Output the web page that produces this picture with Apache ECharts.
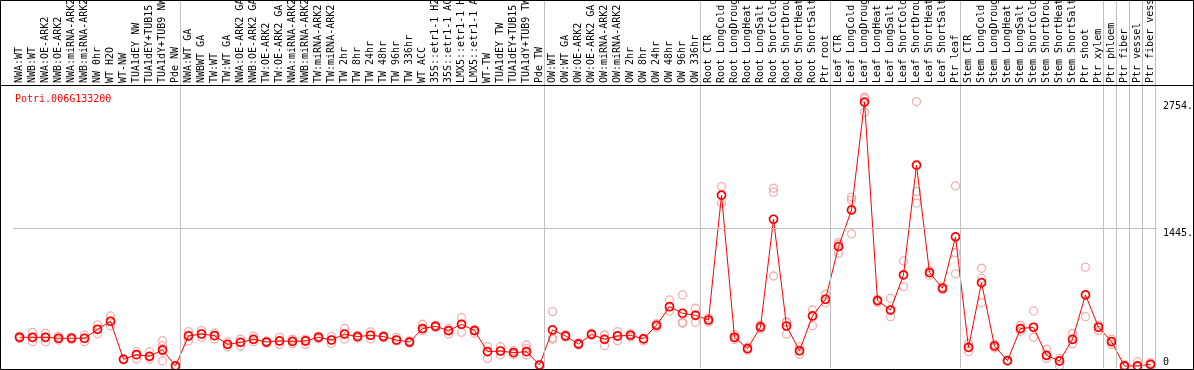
<!DOCTYPE html>
<html><head><meta charset="utf-8">
<script src="https://cdn.jsdelivr.net/npm/echarts@6/dist/echarts.min.js"></script>
<style>html,body{margin:0;padding:0;background:#fff}#c{width:1194px;height:370px}</style>
</head><body><div id="c"></div>
<script>
const geneId = 'Potri.006G133200';
const categories = [
 'NWA:WT','NWB:WT','NWA:OE-ARK2','NWB:OE-ARK2','NWA:miRNA-ARK2','NWB:miRNA-ARK2','NW 0hr','WT H2O','WT-NW','TUA1dEY NW','TUA1dEY+TUB15 NW','TUA1dY+TUB9 NW','Pde NW',
 'NWA:WT GA','NWBWT GA','TW:WT','TW:WT GA','NWA:OE-ARK2 GA','NWB:OE-ARK2 GA','TW:OE-ARK2','TW:OE-ARK2 GA','NWA:miRNA-ARK2','NWB:miRNA-ARK2','TW:miRNA-ARK2','TW:miRNA-ARK2','TW 2hr','TW 8hr','TW 24hr','TW 48hr','TW 96hr','TW 336hr','WT ACC','35S::etr1-1 H2O','35S::etr1-1 ACC','LMX5::etr1-1 H2O','LMX5::etr1-1 ACC','WT-TW','TUA1dEY TW','TUA1dEY+TUB15 TW','TUA1dY+TUB9 TW','Pde TW',
 'OW:WT','OW:WT GA','OW:OE-ARK2','OW:OE-ARK2 GA','OW:miRNA-ARK2','OW:miRNA-ARK2','OW 2hr','OW 8hr','OW 24hr','OW 48hr','OW 96hr','OW 336hr',
 'Root CTR','Root LongCold','Root LongDrought','Root LongHeat','Root LongSalt','Root ShortCold','Root ShortDrought','Root ShortHeat','Root ShortSalt','Ptr root',
 'Leaf CTR','Leaf LongCold','Leaf LongDrought','Leaf LongHeat','Leaf LongSalt','Leaf ShortCold','Leaf ShortDrought','Leaf ShortHeat','Leaf ShortSalt','Ptr leaf',
 'Stem CTR','Stem LongCold','Stem LongDrought','Stem LongHeat','Stem LongSalt','Stem ShortCold','Stem ShortDrought','Stem ShortHeat','Stem ShortSalt','Ptr shoot',
 'Ptr xylem','Ptr phloem','Ptr fiber','Ptr vessel','Ptr fiber vessel'
];
const means = [
 318,318,318,308,308,308,401,484,90,138,121,187,21,
 332,352,335,245,266,297,269,280,276,280,318,290,352,325,339,325,290,269,408,432,387,453,387,169,176,159,169,31,
 394,332,249,349,297,332,339,301,442,635,567,546,
 497,1790,318,200,425,1541,435,179,539,712,
 1257,1637,2754,698,601,964,2101,988,826,1358,
 214,884,228,76,408,422,131,73,297,757,
 422,273,21,21,38
];
const replicates = [
 [330,318,305],[370,318,273],[360,318,273],[330,308,290],[320,308,295],[340,308,273],[446,401,352],[539,484,435],[95,90,85],[169,138,93],[169,121,93],[283,231,175,73],[28,21,15],
 [376,340,280],[387,352,320],[360,335,301],[270,245,220],[300,266,230],[330,297,273],[280,269,258],[320,280,245],[300,276,250],[300,280,245],[330,318,305],[325,290,255],[411,352,300],[340,325,310],[375,339,300],[335,325,315],[318,290,280],[280,269,258],[453,408,385],[445,432,420],[410,387,352],[521,453,370],[400,387,360],[221,169,100],[221,176,135],[180,159,140],[238,200,169,135],[35,31,27],
 [584,310,297],[345,332,320],[260,249,238],[360,349,338],[342,297,231],[376,332,283],[355,339,320],[310,301,280],[460,442,420],[705,635,591],[757,473,463],[619,546,473],
 [520,497,475],[1879,1790,1707],[345,318,295],[215,200,185],[445,425,405],[1862,1821,953],[480,470,352],[221,179,140],[601,539,438],[764,712,677],
 [1299,1280,1189],[1769,1741,1389],[2805,2790,2650],[710,698,680],[722,601,532],[1109,964,843],[2760,1827,1707],[1010,988,960],[840,826,810],[1886,1195,974],
 [255,214,169],[1033,930,677],[245,228,210],[80,76,72],[440,408,380],[591,422,318],[194,131,100],[100,73,24],[359,297,250],[1044,757,532],
 [445,422,390],[300,273,245],[35,21,10],[65,21,10],[55,38,25]
];
const groupBoundaries = [0,13,41,53,63,73,84,85,86,87,88];
const yTickValues = [0,1445,2754];
const gridLines = [1445];

const FONT = 'DejaVu Sans Mono';
const SEP_SHIFT = 1.5/13;
const repData = [];
replicates.forEach((arr,i)=>arr.forEach(v=>repData.push([i,v])));
const sepLines = groupBoundaries.map(b=>({xAxis: b - SEP_SHIFT}));

const chart = echarts.init(document.getElementById('c'), null, {renderer:'canvas'});
chart.setOption({
  animation:false,
  backgroundColor:'#fff',
  title:{text:geneId, left:10, top:89, textStyle:{color:'#ff0000', fontSize:10, fontFamily:FONT, fontWeight:'normal'}},
  grid:[{left:13, width:1144, top:86, height:282, containLabel:false, outerBoundsMode:'none'},
        {left:13, width:1144, top:0, height:85, containLabel:false, outerBoundsMode:'none'}],
  xAxis:[
    {type:'category', gridIndex:0, position:'top', data:categories, boundaryGap:true,
     axisLine:{show:false}, axisTick:{show:false}, splitLine:{show:false},
     axisLabel:{interval:0, rotate:90, margin:3, fontSize:10, fontFamily:FONT, color:'#000', hideOverlap:false}},
    {type:'value', gridIndex:0, min:0, max:88, show:false},
    {type:'value', gridIndex:1, min:0, max:88, show:false}
  ],
  yAxis:[
    {type:'value', gridIndex:0, position:'right', min:0, max:2921,
     axisLine:{show:false}, axisTick:{show:false}, splitLine:{show:false},
     axisLabel:{customValues:yTickValues, margin:6, fontSize:10, fontFamily:FONT, color:'#000',
       formatter:v=> v===0 ? '{z|0}' : '{n|'+v+'.}',
       rich:{z:{fontSize:10, fontFamily:FONT, color:'#000', padding:[0,0,12,0]},
             n:{fontSize:10, fontFamily:FONT, color:'#000', padding:[9,0,0,0]}}}},
    {type:'value', gridIndex:1, min:0, max:1, show:false}
  ],
  series:[
    {type:'line', xAxisIndex:1, yAxisIndex:0, data:[[0,0]], symbol:'none', lineStyle:{width:0}, silent:true, z:1,
     markLine:{silent:true, symbol:['none','none'], label:{show:false}, animation:false,
       lineStyle:{color:'#c0c0c0', width:1, type:'solid'},
       data: sepLines.concat(gridLines.map(v=>({yAxis:v})))}},
    {type:'line', xAxisIndex:2, yAxisIndex:1, data:[[0,0]], symbol:'none', lineStyle:{width:0}, silent:true, z:1,
     markLine:{silent:true, symbol:['none','none'], label:{show:false}, animation:false,
       lineStyle:{color:'#c0c0c0', width:1, type:'solid'}, data: sepLines}},
    {type:'scatter', xAxisIndex:0, yAxisIndex:0, data:repData, symbol:'circle', symbolSize:8, z:2,
     itemStyle:{color:'rgba(0,0,0,0)', borderColor:'#f09a9a', borderWidth:1.3}},
    {type:'line', xAxisIndex:0, yAxisIndex:0, data:means, symbol:'circle', symbolSize:8, showAllSymbol:true, z:3,
     lineStyle:{color:'#ff0000', width:1},
     itemStyle:{color:'rgba(0,0,0,0)', borderColor:'#ff0000', borderWidth:1.7}}
  ],
  graphic:[
    {type:'rect', silent:true, z:100, shape:{x:0.5,y:0.5,width:1193,height:369}, style:{fill:'none', stroke:'#000', lineWidth:1}},
    {type:'line', silent:true, z:100, shape:{x1:0,y1:85.5,x2:1194,y2:85.5}, style:{stroke:'#000', lineWidth:1}}
  ]
});
</script></body></html>
